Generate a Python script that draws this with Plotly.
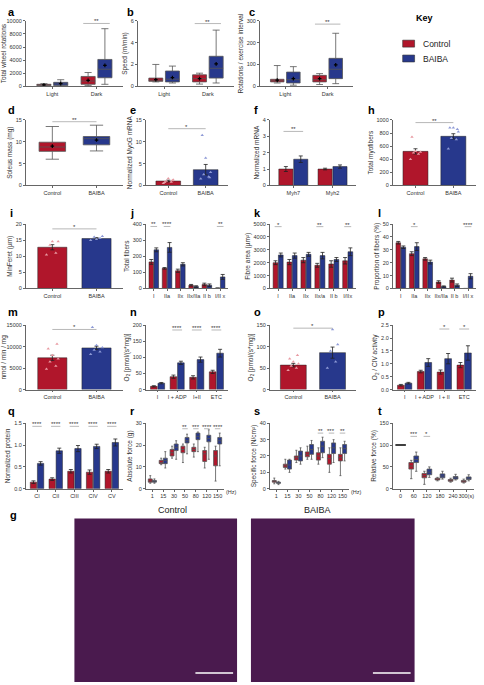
import plotly.graph_objects as go

W, H = 484, 685
RED = "#B0162B"; BLUE = "#27388C"
LRED = "#E89AA2"; LBLUE = "#8E9AD6"

# ---------------- data ----------------
# box panels: [low, q1, median, q3, high, mean]
a_cats = ["Light", "Dark"]
a_ctrl = [[0, 100, 200, 300, 400, 200], [100, 300, 800, 1500, 2100, 900]]
a_baiba = [[0, 100, 350, 600, 1000, 400], [300, 1300, 2600, 4100, 8800, 3200]]
b_ctrl = [[0.4, 0.45, 0.55, 0.75, 2.0, 0.6], [0.2, 0.4, 0.7, 1.05, 1.2, 0.7]]
b_baiba = [[0.3, 0.4, 0.65, 1.4, 1.85, 0.8], [0.3, 0.75, 1.65, 2.75, 5.15, 2.05]]
c_ctrl = [[15, 20, 25, 32, 95, 28], [8, 20, 30, 50, 58, 35]]
c_baiba = [[5, 15, 30, 65, 90, 35], [12, 35, 78, 128, 243, 98]]
d_cats = ["Control", "BAIBA"]
d_vals = [[6, 7.8, 8.8, 9.9, 13.5, 9.0], [7.9, 9.3, 10.7, 11.2, 13.8, 10.4]]

# two-bar panels: mean, sem, dots
e_mean = [1.0, 3.6]; e_sem = [0.2, 1.2]
e_dots = [[0.5, 0.8, 1.0, 1.3, 1.6, 0.7, 1.1], [1.5, 2.0, 2.5, 3.0, 6.3, 11.5, 1.8]]
h_mean = [520, 750]; h_sem = [40, 40]
h_dots = [[400, 480, 500, 510, 520, 740], [560, 700, 720, 820, 880, 880, 860]]
i_mean = [12.8, 15.5]; i_sem = [0.8, 0.3]
i_dots = [[10.5, 11.0, 13.5, 14.6, 14.6], [15.0, 15.6, 16.0, 16.2, 15.3]]
m_mean = [7400, 9700]; m_sem = [600, 400]
m_dots = [[4800, 5500, 6500, 7200, 8000, 9500, 10600], [8200, 8800, 9200, 9800, 10300, 14500]]
o_mean = [57, 86]; o_sem = [4, 13]
o_dots = [[45, 50, 55, 60, 65, 72, 80], [50, 65, 90, 105, 140]]

# grouped bar panels
f_cats = ["Myh7", "Myh2"]
f_c = [1.0, 1.0]; f_ce = [0.15, 0.05]
f_b = [1.6, 1.15]; f_be = [0.2, 0.1]
j_cats = ["I", "IIa", "IIx", "IIx/IIa", "II b", "I/II x"]
j_c = [165, 125, 110, 20, 25, 2]; j_ce = [15, 5, 10, 5, 8, 1]
j_b = [240, 255, 150, 12, 20, 72]; j_be = [12, 30, 10, 5, 8, 15]
k_cats = ["I", "IIa", "IIx", "IIx/a", "II b", "I/IIx"]
k_c = [2000, 2050, 2200, 1800, 1900, 2150]; k_ce = [150, 200, 200, 150, 250, 250]
k_b = [2600, 2550, 2650, 2550, 2250, 2850]; k_be = [150, 200, 150, 250, 150, 300]
l_cats = ["I", "IIa", "IIx", "IIx/IIa", "II b", "I/II x"]
l_c = [35.5, 27, 23, 5, 6.5, 0]; l_ce = [1, 1.5, 1, 1, 1.5, 0]
l_b = [32, 32.5, 20.5, 1.5, 2.5, 9.5]; l_be = [1, 3, 1.5, 0.5, 1, 2]
n_cats = ["I", "I + ADP", "I+II", "ETC"]
n_c = [10, 40, 38, 55]; n_ce = [2, 5, 5, 5]
n_b = [20, 83, 93, 113]; n_be = [2, 5, 8, 12]
p_cats = ["I", "I + ADP", "I + II", "ETC"]
p_c = [0.17, 0.7, 0.68, 0.95]; p_ce = [0.03, 0.05, 0.08, 0.1]
p_b = [0.25, 1.05, 1.2, 1.42]; p_be = [0.03, 0.15, 0.2, 0.28]
q_cats = ["CI", "CII", "CIII", "CIV", "CV"]
q_c = [0.15, 0.22, 0.4, 0.38, 0.4]; q_ce = [0.03, 0.03, 0.04, 0.05, 0.04]
q_b = [0.58, 0.87, 0.92, 0.97, 1.06]; q_be = [0.04, 0.06, 0.07, 0.05, 0.08]

# force boxes: [low, q1, median, q3, high]
r_cats = ["1", "15", "30", "50", "80", "120", "150"]
r_c = [[2.5, 3, 3.5, 4.5, 6], [11, 11.5, 12, 13, 14], [14, 15, 16.5, 18, 19.5], [12, 16.5, 18, 19.5, 20.5],
       [14.5, 17, 18, 19, 20.5], [9.5, 12.5, 16, 17.5, 19], [3.5, 10.5, 15, 17.5, 19.5]]
r_b = [[2.5, 3, 3.2, 3.8, 4.5], [9.5, 11.5, 13, 14, 17], [13.5, 17.5, 19, 20.5, 22], [16, 21, 22, 23.5, 25],
       [17, 22.5, 24, 25.5, 26], [13.5, 21.5, 23, 24.5, 27], [10.5, 20.5, 22, 23.5, 25.5]]
s_cats = ["1", "15", "30", "50", "80", "120", "150"]
s_c = [[3, 4, 4.5, 5, 6.5], [12, 13, 14, 15, 18], [16, 17.5, 19, 20, 23.5], [18, 19.5, 21, 22.5, 26],
       [15, 17.5, 20, 22, 25], [10, 15, 18.5, 21, 25], [8, 17, 19, 21, 25]]
s_b = [[2.5, 3.3, 3.5, 4, 4.5], [10, 12, 14.5, 17.5, 18], [15, 17, 20, 23, 25], [18, 21, 24, 27, 29.5],
       [19, 22, 26, 29, 31.5], [16, 21.5, 25, 28, 30], [17, 21.5, 24.5, 27, 29]]
t_cats = ["0", "60", "120", "180", "240", "300(s)"]
t_c = [[100, 100, 100, 100, 100], [23, 45, 52, 60, 65], [10, 25, 30, 35, 40], [18, 20, 22, 24, 26],
       [15, 17, 19, 21, 24], [13, 15, 17, 19, 22]]
t_b = [[100, 100, 100, 100, 100], [40, 60, 67, 75, 84], [26, 32, 38, 45, 50], [22, 25, 29, 34, 40],
       [20, 22, 25, 28, 33], [18, 21, 24, 27, 32]]

# ---------------- layout helpers ----------------
fig = go.Figure()
layout = {}
annotations = []
shapes = []
counter = [0]

def px_x(x): return x / W
def px_y(y): return 1 - y / H

AX_FONT = dict(family="Arial, Liberation Sans", size=5.5, color="#333")

def new_axes(x0, x1, y0, y1, xr, yr, ticks, cats, ytitle):
    counter[0] += 1
    k = counter[0]
    xn = "x" if k == 1 else f"x{k}"
    yn = "y" if k == 1 else f"y{k}"
    layout["xaxis" if k == 1 else f"xaxis{k}"] = dict(
        domain=[px_x(x0), px_x(x1)], anchor=yn, range=xr, tickmode="array",
        tickvals=list(range(len(cats))), ticktext=cats, showgrid=False, zeroline=False,
        showline=True, linecolor="#666", linewidth=0.8, ticks="outside", ticklen=2,
        tickcolor="#666", tickfont=AX_FONT, tickangle=0)
    layout["yaxis" if k == 1 else f"yaxis{k}"] = dict(
        domain=[px_y(y1), px_y(y0)], anchor=xn, range=yr, tickmode="array",
        tickvals=ticks, ticktext=[f"{t:g}" if not isinstance(t, float) else f"{t:.1f}" for t in ticks],
        showgrid=False, zeroline=False, showline=True, linecolor="#666",
        linewidth=0.8, ticks="outside", ticklen=2, tickcolor="#666", tickfont=AX_FONT,
        title=dict(text=ytitle, font=dict(family="Arial, Liberation Sans", size=6.5, color="#333"), standoff=2))
    return xn, yn

def sig(xn, yn, xa, xb, yv, txt):
    shapes.append(dict(type="line", xref=xn, yref=yn, x0=xa, x1=xb, y0=yv, y1=yv,
                       line=dict(color="#999", width=0.7)))
    annotations.append(dict(xref=xn, yref=yn, x=(xa + xb) / 2, y=yv, text=txt, showarrow=False,
                            yanchor="bottom", font=dict(size=6, color="#333"), yshift=-3))

def letter(x, y, t):
    annotations.append(dict(xref="paper", yref="paper", x=px_x(x), y=px_y(y), text=f"<b>{t}</b>",
                            showarrow=False, xanchor="left", yanchor="middle",
                            font=dict(family="Arial, Liberation Sans", size=11, color="black")))

def box(xn, yn, xpos, st, color, w=0.32, mean=True):
    fig.add_trace(go.Box(x=[xpos], lowerfence=[st[0]], q1=[st[1]], median=[st[2]], q3=[st[3]],
                         upperfence=[st[4]], xaxis=xn, yaxis=yn, width=w, fillcolor=color,
                         line=dict(color="#555", width=0.8), showlegend=False, boxpoints=False))
    if mean and len(st) > 5:
        fig.add_trace(go.Scatter(x=[xpos], y=[st[5]], mode="markers", xaxis=xn, yaxis=yn,
                                 marker=dict(symbol="cross", size=3, color="black"), showlegend=False))

JIT = [-0.1, 0.06, -0.04, 0.1, 0.0, -0.07, 0.08, 0.03]

def bar(xn, yn, xpos, val, err, color, dcolor, dots=None, w=0.34):
    fig.add_trace(go.Bar(x=[xpos], y=[val], width=w, xaxis=xn, yaxis=yn, marker=dict(color=color,
                         line=dict(color="#222", width=0.5)), showlegend=False,
                         error_y=dict(type="data", array=[err], color="#222", thickness=0.8, width=2)))
    if dots:
        fig.add_trace(go.Scatter(x=[xpos + JIT[i % len(JIT)] * w * 2 for i in range(len(dots))], y=dots,
                                 mode="markers", xaxis=xn, yaxis=yn, showlegend=False,
                                 marker=dict(symbol="triangle-up", size=3, color=dcolor)))

OFF = 0.19

# ---------------- row 1: a b c ----------------
R1 = (18, 84)
for (x0, x1, ct, bt, yr, tk, yt, sy, lx) in [
        (22, 120, a_ctrl, a_baiba, [0, 10000], [0, 2000, 4000, 6000, 8000, 10000], "Total wheel rotations", 9600, (2, 9, "a")),
        (135, 232, b_ctrl, b_baiba, [0, 6], [0, 2, 4, 6], "Speed (m/min)", 5.75, (122, 9, "b")),
        (258, 352, c_ctrl, c_baiba, [0, 300], [0, 100, 200, 300], "Rotations / exercise interval", 285, (245, 9, "c"))]:
    xn, yn = new_axes(x0, x1, R1[0], R1[1], [-0.6, 1.6], yr, tk, a_cats, yt)
    for g in range(2):
        box(xn, yn, g - OFF, ct[g], RED)
        box(xn, yn, g + OFF, bt[g], BLUE)
    sig(xn, yn, 1 - 0.3, 1 + 0.3, sy, "**")
    letter(*lx)

# key
annotations.append(dict(xref="paper", yref="paper", x=px_x(435), y=px_y(8), text="<b>Key</b>", showarrow=False,
                        font=dict(family="Arial, Liberation Sans", size=9, color="black")))
for i, (nm, col) in enumerate([("Control", RED), ("BAIBA", BLUE)]):
    yy = 41 + 15 * i
    shapes.append(dict(type="rect", xref="paper", yref="paper", x0=px_x(402), x1=px_x(414),
                       y0=px_y(yy + 3.5), y1=px_y(yy - 3.5), fillcolor=col, line=dict(color="#333", width=0.6)))
    annotations.append(dict(xref="paper", yref="paper", x=px_x(420), y=px_y(yy), text=nm, showarrow=False,
                            xanchor="left", yanchor="middle",
                            font=dict(family="Arial, Liberation Sans", size=8.5, color="#222")))

# ---------------- row 2: d e f h ----------------
R2 = (118, 184)
xn, yn = new_axes(22, 120, *R2, [-0.6, 1.6], [0, 15], [0, 5, 10, 15], d_cats, "Soleus mass (mg)")
box(xn, yn, 0, d_vals[0], RED, w=0.6); box(xn, yn, 1, d_vals[1], BLUE, w=0.6)
sig(xn, yn, 0, 1, 14.6, "**"); letter(2, 108, "d")

def twobar(x0, x1, rows, cats, mean, sem, dots, yr, tk, yt, sy, st, lt):
    xn, yn = new_axes(x0, x1, *rows, [-0.6, 1.6], yr, tk, cats, yt)
    bar(xn, yn, 0, mean[0], sem[0], RED, LRED, dots[0], w=0.66)
    bar(xn, yn, 1, mean[1], sem[1], BLUE, LBLUE, dots[1], w=0.66)
    sig(xn, yn, 0, 1, sy, st); letter(*lt)

twobar(143, 226, R2, d_cats, e_mean, e_sem, e_dots, [0, 15], [0, 5, 10, 15], "Normalized MyoG mRNA", 13, "*", (125, 108, "e"))

def groupbar(x0, x1, rows, cats, c, ce, b, be, yr, tk, yt, sigs, lt, w=0.34):
    n = len(cats)
    xn, yn = new_axes(x0, x1, *rows, [-0.6, n - 0.4], yr, tk, cats, yt)
    for g in range(n):
        bar(xn, yn, g - OFF, c[g], ce[g], RED, LRED, w=w)
        bar(xn, yn, g + OFF, b[g], be[g], BLUE, LBLUE, w=w)
    for (g, yv, t) in sigs:
        sig(xn, yn, g - 0.25, g + 0.25, yv, t)
    letter(*lt)

groupbar(268, 355, R2, f_cats, f_c, f_ce, f_b, f_be, [0, 4], [0, 1, 2, 3, 4], "Normalized mRNA",
         [(0, 3.3, "**")], (250, 108, "f"), w=0.36)
twobar(392, 476, R2, d_cats, h_mean, h_sem, h_dots, [0, 1000], [0, 200, 400, 600, 800, 1000], "Total myofibers", 960, "**", (365, 108, "h"))

# ---------------- row 3: i j k l ----------------
R3 = (223, 288)
twobar(22, 120, R3, d_cats, i_mean, i_sem, i_dots, [0, 20], [0, 5, 10, 15, 20], "MinFeret (µm)", 18.5, "*", (4, 212, "i"))
groupbar(143, 226, R3, j_cats, j_c, j_ce, j_b, j_be, [0, 400], [0, 100, 200, 300, 400], "Total fibers",
         [(0, 385, "**"), (1, 385, "****"), (5, 385, "**")], (125, 212, "j"))
groupbar(268, 355, R3, k_cats, k_c, k_ce, k_b, k_be, [0, 5000], [0, 1000, 2000, 3000, 4000, 5000], "Fibre area (µm²)",
         [(0, 4800, "*"), (3, 4800, "**"), (5, 4800, "**")], (250, 212, "k"))
groupbar(392, 476, R3, l_cats, l_c, l_ce, l_b, l_be, [0, 50], [0, 10, 20, 30, 40, 50], "Proportion of fibers (%)",
         [(1, 48, "*"), (5, 48, "****")], (375, 212, "l"))

# ---------------- row 4: m n o p ----------------
R4 = (325, 390)
twobar(22, 120, R4, d_cats, m_mean, m_sem, m_dots, [0, 15000], [0, 5000, 10000, 15000], "nmol / min / mg", 14000, "*", (2, 312, "m"))
groupbar(143, 226, R4, n_cats, n_c, n_ce, n_b, n_be, [0, 200], [0, 50, 100, 150, 200], "O<sub>2</sub> [pmol/(s*mg)]",
         [(1, 185, "****"), (2, 185, "****"), (3, 185, "****")], (125, 312, "n"))
twobar(268, 355, R4, d_cats, o_mean, o_sem, o_dots, [0, 150], [0, 50, 100, 150], "O<sub>2</sub> [pmol/(s*mg)]", 143, "*", (250, 312, "o"))
groupbar(392, 476, R4, p_cats, p_c, p_ce, p_b, p_be, [0, 2.5], [0.0, 0.5, 1.0, 1.5, 2.0, 2.5], "O<sub>2</sub> / CIV activity",
         [(2, 2.35, "*"), (3, 2.35, "*")], (375, 312, "p"))

# ---------------- row 5: q r s t ----------------
R5 = (424, 490)
groupbar(22, 120, R5, q_cats, q_c, q_ce, q_b, q_be, [0, 1.5], [0.0, 0.5, 1.0, 1.5], "Normalized protein",
         [(g, 1.43, "****") for g in range(5)], (2, 412, "q"))

def forcebox(x0, x1, cats, c, b, yr, tk, yt, sigs, lt, unit):
    n = len(cats)
    xn, yn = new_axes(x0, x1, *R5, [-0.6, n - 0.4], yr, tk, cats, yt)
    for g in range(n):
        if c[g][0] == c[g][4]:
            shapes.append(dict(type="line", xref=xn, yref=yn, x0=g - 0.4, x1=g + 0.4, y0=c[g][2], y1=c[g][2],
                               line=dict(color="black", width=1.5)))
            continue
        box(xn, yn, g - OFF, c[g], RED, w=0.36)
        box(xn, yn, g + OFF, b[g], BLUE, w=0.36)
    for (g, yv, t) in sigs:
        sig(xn, yn, g - 0.25, g + 0.25, yv, t)
    if unit:
        annotations.append(dict(xref=xn, yref="paper", x=n - 0.4, y=px_y(R5[1] + 8), text=unit, showarrow=False,
                                xanchor="left", font=AX_FONT))
    letter(*lt)

forcebox(143, 222, r_cats, r_c, r_b, [0, 30], [0, 10, 20, 30], "Absolute force (g)",
         [(3, 27.5, "**"), (4, 27.5, "***"), (5, 27.5, "****"), (6, 27.5, "****")], (125, 412, "r"), "(Hz)")
forcebox(268, 348, s_cats, s_c, s_b, [0, 40], [0, 10, 20, 30, 40], "Specific force (N/cm²)",
         [(4, 34, "**"), (5, 34, "***"), (6, 34, "**")], (250, 412, "s"), "(Hz)")
forcebox(392, 474, t_cats, t_c, t_b, [0, 150], [0, 50, 100, 150], "Relative force (%)",
         [(1, 120, "***"), (2, 120, "*")], (375, 412, "t"), "")

# ---------------- g: micrographs (placeholders) ----------------
letter(4, 517, "g")
for (x0, x1, nm) in [(71, 235, "Control"), (249, 414, "BAIBA")]:
    shapes.append(dict(type="rect", xref="paper", yref="paper", x0=px_x(x0), x1=px_x(x1), y0=px_y(685), y1=px_y(520),
                       fillcolor="#4A1A4E", line=dict(width=0), layer="below"))
    shapes.append(dict(type="line", xref="paper", yref="paper", x0=px_x(x1 - 42), x1=px_x(x1 - 4),
                       y0=px_y(676), y1=px_y(676), line=dict(color="white", width=1.5)))
    annotations.append(dict(xref="paper", yref="paper", x=px_x((x0 + x1) / 2), y=px_y(519), text=nm, showarrow=False,
                            yanchor="bottom", font=dict(family="Arial, Liberation Sans", size=9, color="#222")))

layout.update(dict(width=W, height=H, margin=dict(l=0, r=0, t=0, b=0), plot_bgcolor="white",
                   paper_bgcolor="white", annotations=annotations, shapes=shapes, barmode="overlay",
                   boxmode="overlay", font=dict(family="Arial, Liberation Sans")))
fig.update_layout(**layout)
fig.write_html("out.html", config={"displayModeBar": False},
               post_script="document.body.style.margin='0';document.body.style.overflow='hidden';"
                           "document.documentElement.style.overflow='hidden';")
